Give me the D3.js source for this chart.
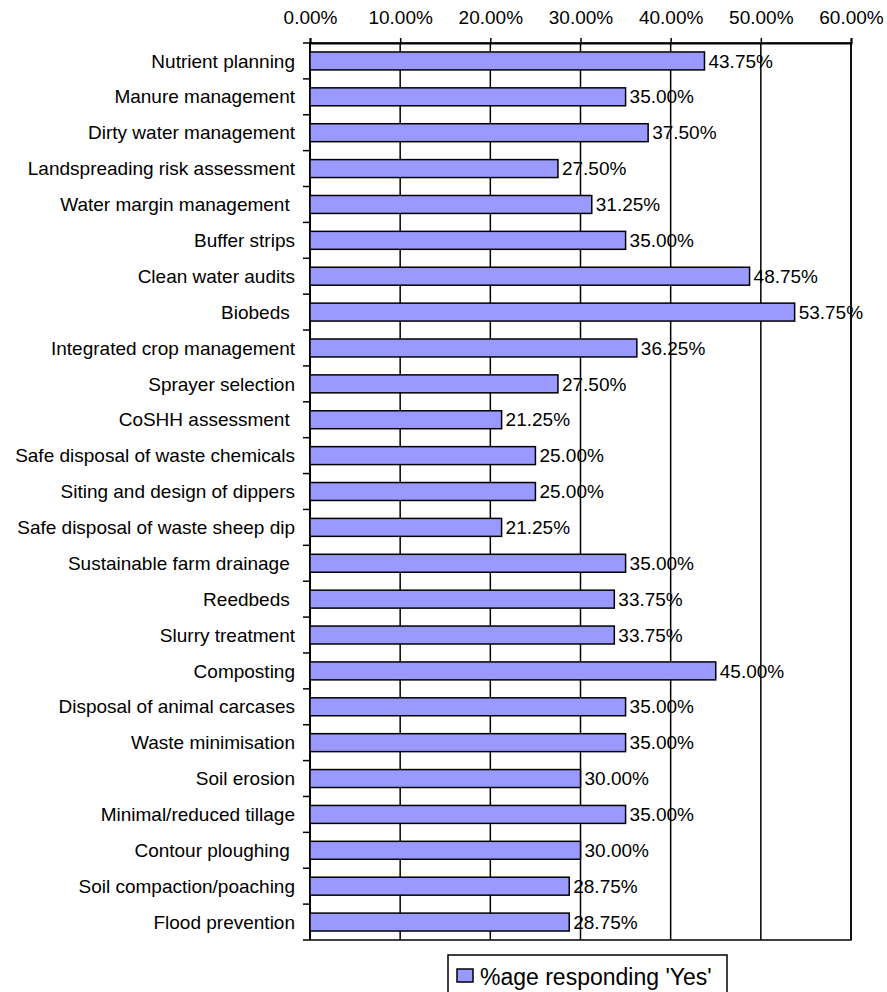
<!DOCTYPE html>
<html>
<head>
<meta charset="utf-8">
<script src="https://cdn.jsdelivr.net/npm/d3@7"></script>
<style>
  body { margin: 0; background: #fff; }
  text { font-family: "Liberation Sans", Arial, sans-serif; fill: #000; white-space: pre; }
</style>
</head>
<body>
<div class="board"></div>
<script>
var categories = [
  'Nutrient planning', 'Manure management', 'Dirty water management',
  'Landspreading risk assessment', 'Water margin management ', 'Buffer strips',
  'Clean water audits', 'Biobeds ', 'Integrated crop management',
  'Sprayer selection', 'CoSHH assessment ', 'Safe disposal of waste chemicals',
  'Siting and design of dippers', 'Safe disposal of waste sheep dip',
  'Sustainable farm drainage ', 'Reedbeds ', 'Slurry treatment', 'Composting',
  'Disposal of animal carcases', 'Waste minimisation', 'Soil erosion',
  'Minimal/reduced tillage', 'Contour ploughing ', 'Soil compaction/poaching',
  'Flood prevention'
];

var yesValues = [
  43.75, 35.00, 37.50, 27.50, 31.25, 35.00, 48.75, 53.75, 36.25, 27.50,
  21.25, 25.00, 25.00, 21.25, 35.00, 33.75, 33.75, 45.00, 35.00, 35.00,
  30.00, 35.00, 30.00, 28.75, 28.75
];

var xTicks = [0, 10, 20, 30, 40, 50, 60];
var seriesName = "%age responding 'Yes'";

var chart = { width: 887, height: 992, left: 310, right: 851, top: 43, bottom: 940 };

var svg = d3.select('.board').append('svg')
            .attr('width', chart.width)
            .attr('height', chart.height);

var x = d3.scaleLinear().domain([0, 60]).range([chart.left, chart.right]);
var y = d3.scaleBand().domain(categories).range([chart.top, chart.bottom])
          .paddingInner(0.5).paddingOuter(0.25);
var band = (chart.bottom - chart.top) / categories.length;

// plot area
svg.append('rect')
   .attr('x', chart.left).attr('y', chart.top)
   .attr('width', chart.right - chart.left).attr('height', chart.bottom - chart.top)
   .style('fill', '#fff').style('stroke', '#000').style('stroke-width', 1.5);

// vertical gridlines
svg.selectAll('line.grid')
   .data(xTicks.slice(1))
   .enter().append('line')
   .attr('class', 'grid')
   .attr('x1', function(d) { return x(d) }).attr('x2', function(d) { return x(d) })
   .attr('y1', chart.top).attr('y2', chart.bottom)
   .style('stroke', '#000').style('stroke-width', 1.5);

// top axis
var xAxis = d3.axisTop(x).tickValues(xTicks).tickSize(5).tickPadding(14)
              .tickFormat(function(d) { return d.toFixed(2) + '%' });
var gx = svg.append('g').attr('transform', 'translate(0,' + chart.top + ')').call(xAxis);
gx.select('.domain').style('stroke', '#000').style('stroke-width', 2);
gx.selectAll('.tick line').style('stroke', '#000').style('stroke-width', 1.5);
gx.selectAll('.tick text').style('font-size', '19px').attr('font-family', null);

// left axis line and ticks at band boundaries
svg.append('line')
   .attr('x1', chart.left).attr('x2', chart.left)
   .attr('y1', chart.top).attr('y2', chart.bottom)
   .style('stroke', '#000').style('stroke-width', 2);

svg.selectAll('line.ytick')
   .data(d3.range(categories.length + 1))
   .enter().append('line')
   .attr('class', 'ytick')
   .attr('x1', chart.left - 7).attr('x2', chart.left)
   .attr('y1', function(i) { return chart.top + i * band })
   .attr('y2', function(i) { return chart.top + i * band })
   .style('stroke', '#000').style('stroke-width', 1.5);

svg.selectAll('text.cat')
   .data(categories)
   .enter().append('text')
   .attr('class', 'cat')
   .attr('x', chart.left - 15)
   .attr('y', function(d) { return y(d) + y.bandwidth() / 2 })
   .attr('dy', '0.35em')
   .attr('text-anchor', 'end')
   .style('font-size', '19px')
   .text(function(d) { return d });

// bars
var rows = categories.map(function(c, i) { return { name: c, value: yesValues[i] } });

svg.selectAll('rect.bar')
   .data(rows)
   .enter().append('rect')
   .attr('class', 'bar')
   .attr('x', x(0))
   .attr('y', function(d) { return y(d.name) })
   .attr('width', function(d) { return x(d.value) - x(0) })
   .attr('height', y.bandwidth())
   .style('fill', '#9999ff').style('stroke', '#000').style('stroke-width', 1.5);

svg.selectAll('text.val')
   .data(rows)
   .enter().append('text')
   .attr('class', 'val')
   .attr('x', function(d) { return x(d.value) + 4 })
   .attr('y', function(d) { return y(d.name) + y.bandwidth() / 2 })
   .attr('dy', '0.35em')
   .style('font-size', '19px')
   .text(function(d) { return d.value.toFixed(2) + '%' });

// legend
var legend = svg.append('g');
legend.append('rect')
      .attr('x', 448).attr('y', 955).attr('width', 279).attr('height', 45)
      .style('fill', '#fff').style('stroke', '#000').style('stroke-width', 1.5);
legend.append('rect')
      .attr('x', 457).attr('y', 969).attr('width', 16).attr('height', 13)
      .style('fill', '#9999ff').style('stroke', '#000').style('stroke-width', 1.5);
legend.append('text')
      .attr('x', 480).attr('y', 985)
      .style('font-size', '23px')
      .text(seriesName);
</script>
</body>
</html>
